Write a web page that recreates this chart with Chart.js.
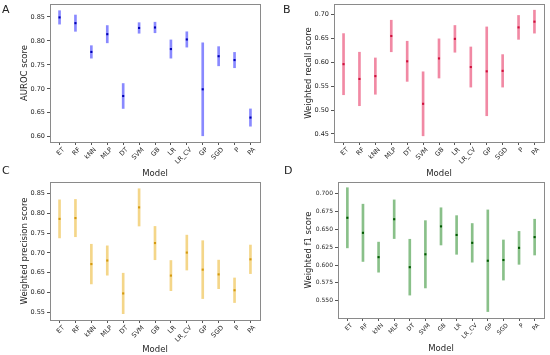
<!DOCTYPE html>
<html lang="en">
<head>
  <meta charset="UTF-8">
  <title>Model scores</title>
  <script src="https://cdn.jsdelivr.net/npm/chart.js"></script>
  <style>
    body { margin: 0; background: #fff; }
    .page { position: relative; width: 550px; height: 355px; overflow: hidden; font-family: 'DejaVu Sans', sans-serif; }
    .panel { position: absolute; width: 275px; height: 180px; }
    .letra { position: absolute; font-size: 11px; color: #222; }
  </style>
</head>
<body>
  <div class="page">
    <div class="panel" style="left:0;top:0"><canvas id="chartA" width="275" height="180"></canvas></div>
    <div class="panel" style="left:275px;top:0"><canvas id="chartB" width="275" height="180"></canvas></div>
    <div class="panel" style="left:0;top:175px"><canvas id="chartC" width="275" height="180"></canvas></div>
    <div class="panel" style="left:275px;top:175px"><canvas id="chartD" width="275" height="180"></canvas></div>
    <div class="letra" style="left:2px;top:3px">A</div>
    <div class="letra" style="left:283px;top:3px">B</div>
    <div class="letra" style="left:2px;top:164px">C</div>
    <div class="letra" style="left:284px;top:164px">D</div>
  </div>

<script>
  // modelos avaliados
  const models = ['ET', 'RF', 'kNN', 'MLP', 'DT', 'SVM', 'GB', 'LR', 'LR_CV', 'GP', 'SGD', 'P', 'PA'];

  // A - AUROC
  const aucMean = [0.849, 0.837, 0.777, 0.814, 0.685, 0.827, 0.828, 0.783, 0.803, 0.699, 0.768, 0.760, 0.640];
  const aucSd = [0.014, 0.017, 0.013, 0.018, 0.026, 0.011, 0.011, 0.019, 0.016, 0.097, 0.020, 0.016, 0.018];
  const aucTicks = [0.60, 0.65, 0.70, 0.75, 0.80, 0.85];

  // B - weighted recall
  const recallMean = [0.596, 0.565, 0.571, 0.655, 0.602, 0.513, 0.608, 0.649, 0.590, 0.581, 0.582, 0.673, 0.685];
  const recallSd = [0.064, 0.056, 0.038, 0.033, 0.042, 0.067, 0.041, 0.028, 0.042, 0.093, 0.034, 0.025, 0.024];
  const recallTicks = [0.45, 0.50, 0.55, 0.60, 0.65, 0.70];

  // C - weighted precision
  const precMean = [0.786, 0.788, 0.672, 0.681, 0.598, 0.815, 0.725, 0.643, 0.701, 0.658, 0.646, 0.606, 0.684];
  const precSd = [0.048, 0.047, 0.050, 0.037, 0.051, 0.047, 0.042, 0.038, 0.044, 0.073, 0.036, 0.031, 0.036];
  const precTicks = [0.55, 0.60, 0.65, 0.70, 0.75, 0.80, 0.85];

  // D - weighted f1
  const f1Mean = [0.666, 0.645, 0.611, 0.664, 0.597, 0.615, 0.654, 0.642, 0.631, 0.606, 0.607, 0.624, 0.639];
  const f1Sd = [0.042, 0.040, 0.021, 0.027, 0.039, 0.047, 0.026, 0.027, 0.027, 0.071, 0.028, 0.023, 0.025];
  const f1Ticks = [0.550, 0.575, 0.600, 0.625, 0.650, 0.675, 0.700];

  const fonte = 'DejaVu Sans';
  const corTexto = '#262626';

  // contorno da area do grafico (estilo matplotlib)
  const caixa = {
    id: 'caixa',
    afterDraw(chart) {
      const a = chart.chartArea;
      const ctx = chart.ctx;
      ctx.save();
      ctx.strokeStyle = '#8a8a8a';
      ctx.lineWidth = 1;
      ctx.strokeRect(Math.round(a.left) + 0.5, Math.round(a.top) + 0.5, Math.round(a.right - a.left), Math.round(a.bottom - a.top));
      ctx.restore();
    }
  };

  function plotarPainel(id, medias, desvios, yTicks, cfg) {
    // barra de erro = media +- desvio, ponto = media
    const barras = models.map((m, i) => ({ x: i, y: [medias[i] - desvios[i], medias[i] + desvios[i]] }));
    const pontos = models.map((m, i) => ({ x: i, y: medias[i] }));

    new Chart(document.getElementById(id), {
      type: 'bar',
      data: {
        datasets: [{
          type: 'scatter',
          data: pontos,
          pointStyle: 'rect',
          pointRadius: 1.5,
          backgroundColor: cfg.ponto,
          borderWidth: 0,
          order: 0
        }, {
          type: 'bar',
          data: barras,
          barThickness: 2,
          backgroundColor: cfg.barra,
          borderWidth: 0,
          order: 1
        }]
      },
      options: {
        responsive: false,
        animation: false,
        devicePixelRatio: 1,
        layout: { padding: { top: cfg.top, right: cfg.right, left: 0, bottom: 0 } },
        plugins: { legend: { display: false }, tooltip: { enabled: false } },
        scales: {
          x: {
            type: 'linear',
            min: -0.6,
            max: 12.6,
            offset: false,
            afterBuildTicks: s => { s.ticks = models.map((m, i) => ({ value: i })); },
            afterFit: s => { s.height = 180 - cfg.bottom; },
            grid: { display: true, drawOnChartArea: false, drawTicks: true, tickLength: 3, color: '#555', offset: false },
            border: { display: false },
            ticks: {
              autoSkip: false,
              minRotation: 45,
              maxRotation: 45,
              padding: 1,
              labelOffset: 4,
              color: corTexto,
              font: { family: fonte, size: cfg.tickSize },
              callback: v => models[v]
            },
            title: {
              display: true,
              text: 'Model',
              color: corTexto,
              font: { family: fonte, size: 8.5 },
              padding: { top: 0, bottom: cfg.xTitlePad }
            }
          },
          y: {
            min: cfg.min,
            max: cfg.max,
            afterBuildTicks: s => { s.ticks = yTicks.map(v => ({ value: v })); },
            afterFit: s => { s.width = cfg.left; s.paddingTop = 0; s.paddingBottom = 0; },
            grid: { display: true, drawOnChartArea: false, drawTicks: true, tickLength: 3, color: '#555' },
            border: { display: false },
            ticks: {
              padding: 2,
              color: corTexto,
              font: { family: fonte, size: cfg.tickSize },
              callback: v => v.toFixed(cfg.casas)
            },
            title: {
              display: true,
              text: cfg.titulo,
              color: corTexto,
              font: { family: fonte, size: 8.5 },
              padding: { top: cfg.yTitlePad, bottom: 0 }
            }
          }
        }
      },
      plugins: [caixa]
    });
  }

  plotarPainel('chartA', aucMean, aucSd, aucTicks, {
    titulo: 'AUROC score', min: 0.589, max: 0.877, casas: 2,
    left: 50, right: 15, top: 4, bottom: 142, tickSize: 6.5, yTitlePad: 20, xTitlePad: 1.5,
    barra: 'rgba(40,40,255,0.55)', ponto: '#0000b4'
  });

  plotarPainel('chartB', recallMean, recallSd, recallTicks, {
    titulo: 'Weighted recall score', min: 0.433, max: 0.722, casas: 2,
    left: 59, right: 6, top: 4, bottom: 142, tickSize: 6.5, yTitlePad: 29, xTitlePad: 1.5,
    barra: 'rgba(230,40,90,0.55)', ponto: '#d0103c'
  });

  plotarPainel('chartC', precMean, precSd, precTicks, {
    titulo: 'Weighted precision score', min: 0.531, max: 0.879, casas: 2,
    left: 50, right: 15, top: 7, bottom: 145, tickSize: 6.5, yTitlePad: 20, xTitlePad: 0,
    barra: 'rgba(235,180,40,0.55)', ponto: '#d49a10'
  });

  plotarPainel('chartD', f1Mean, f1Sd, f1Ticks, {
    titulo: 'Weighted f1 score', min: 0.526, max: 0.716, casas: 3,
    left: 63, right: 6, top: 7, bottom: 143, tickSize: 6, yTitlePad: 29, xTitlePad: 1.5,
    barra: 'rgba(40,140,40,0.55)', ponto: '#005a00'
  });
</script>
</body>
</html>
